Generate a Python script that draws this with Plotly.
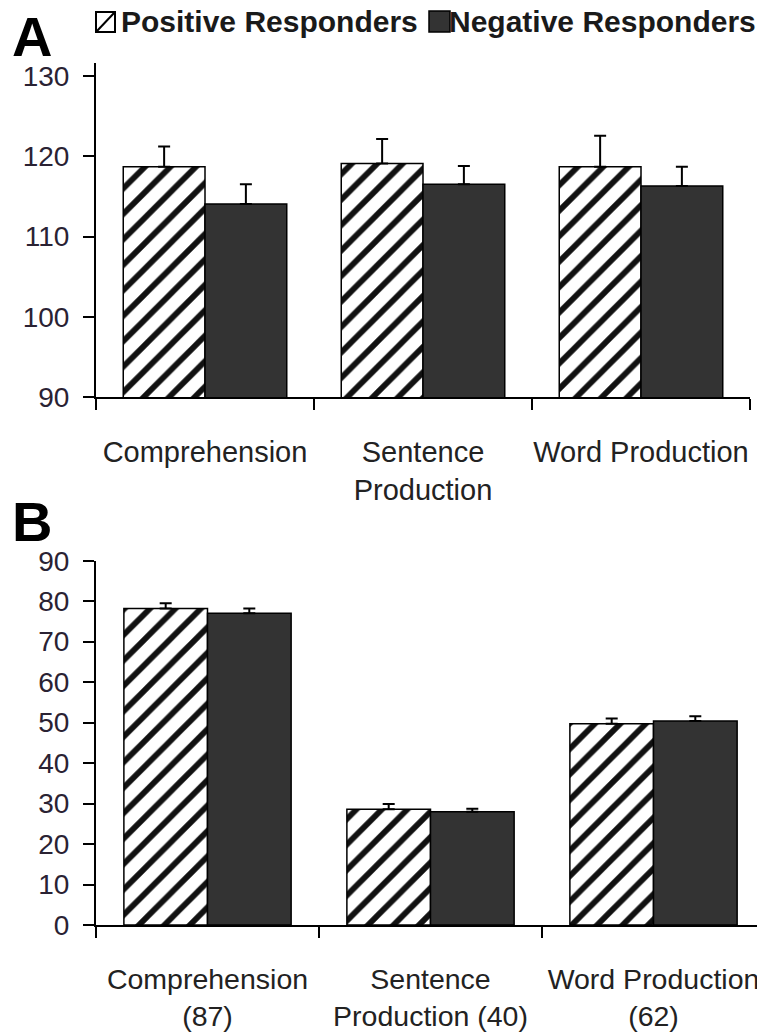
import plotly.graph_objects as go

# page body has an 8px margin; the figure is sized so the page fills 765x1036
OFF = 8
W, H = 765 - OFF, 1036 - OFF

# ---------------- data ----------------
categories = ["Comprehension", "Sentence Production", "Word Production"]
tick_text_a = ["Comprehension", "Sentence<br>Production", "Word Production"]
tick_text_b = ["Comprehension<br>(87)", "Sentence<br>Production (40)", "Word Production<br>(62)"]
series_names = ["Positive Responders", "Negative Responders"]

pos_a = [118.7, 119.1, 118.7]
pos_a_err = [2.5, 3.05, 3.85]
neg_a = [114.05, 116.5, 116.3]
neg_a_err = [2.45, 2.3, 2.4]

pos_b = [78.2, 28.6, 49.7]
pos_b_err = [1.3, 1.3, 1.3]
neg_b = [77.0, 28.0, 50.4]
neg_b_err = [1.2, 0.7, 1.15]

yticks_a = [90, 100, 110, 120, 130]
yticks_b = [0, 10, 20, 30, 40, 50, 60, 70, 80, 90]

FONT = "'Liberation Sans', Arial, sans-serif"
DARK = "#333333"


def px(x):
    return (x - OFF) / W


def py(y):
    return 1 - (y - OFF) / H


pos_marker = dict(color="white", line=dict(color="black", width=1.5),
                  pattern=dict(shape="/", size=18, solidity=0.32,
                               fgcolor="#111111", bgcolor="white", fillmode="replace"))
neg_marker = dict(color=DARK, line=dict(color="black", width=1.5))


def err(arr):
    return dict(type="data", array=arr, arrayminus=[0] * len(arr), symmetric=False,
                color="black", thickness=2, width=6)


fig = go.Figure()
fig.add_bar(x=categories, y=pos_a, name=series_names[0], marker=pos_marker,
            error_y=err(pos_a_err), xaxis="x", yaxis="y", showlegend=False)
fig.add_bar(x=categories, y=neg_a, name=series_names[1], marker=neg_marker,
            error_y=err(neg_a_err), xaxis="x", yaxis="y", showlegend=False)
fig.add_bar(x=categories, y=pos_b, name=series_names[0], marker=pos_marker,
            error_y=err(pos_b_err), xaxis="x2", yaxis="y2", showlegend=False)
fig.add_bar(x=categories, y=neg_b, name=series_names[1], marker=neg_marker,
            error_y=err(neg_b_err), xaxis="x2", yaxis="y2", showlegend=False)

axis_common = dict(showline=True, linecolor="black", linewidth=2, ticks="outside",
                   ticklen=11, tickwidth=2, tickcolor="black", showgrid=False,
                   zeroline=False, automargin=False)

fig.update_layout(
    width=W, height=H,
    margin=dict(l=0, r=0, t=0, b=0, autoexpand=False),
    paper_bgcolor="white", plot_bgcolor="white",
    barmode="group", bargap=0.25, bargroupgap=0,
    font=dict(family=FONT, color="#222222"),
    xaxis=dict(domain=[px(96), px(750)], anchor="y", type="category",
               range=[-0.5, 2.5], tickson="boundaries", tickangle=0,
               tickvals=categories, ticktext=tick_text_a,
               tickfont=dict(size=29, color="#222222"), ticklabelstandoff=28,
               **axis_common),
    yaxis=dict(domain=[py(397), py(63)], anchor="x", range=[90, 131.62],
               tickvals=yticks_a, tickfont=dict(size=28, color="#2a2233"),
               ticklabelstandoff=8, **axis_common),
    xaxis2=dict(domain=[px(96), px(765)], anchor="y2", type="category",
                range=[-0.5, 2.5], tickson="boundaries", tickangle=0,
                tickvals=categories, ticktext=tick_text_b,
                tickfont=dict(size=28.5, color="#222222"), ticklabelstandoff=28,
                **axis_common),
    yaxis2=dict(domain=[py(925), py(560.7)], anchor="x2", range=[0, 90],
                tickvals=yticks_b, tickfont=dict(size=28, color="#2a2233"),
                ticklabelstandoff=8, **axis_common),
)

# panel letters
fig.add_annotation(text="<b>A</b>", x=px(10), y=py(36), xref="paper", yref="paper",
                   xanchor="left", yanchor="middle", showarrow=False,
                   font=dict(size=56, family=FONT, color="black"))
fig.add_annotation(text="<b>B</b>", x=px(10), y=py(521), xref="paper", yref="paper",
                   xanchor="left", yanchor="middle", showarrow=False,
                   font=dict(size=56, family=FONT, color="black"))

# legend (drawn manually)
fig.add_annotation(text="<b>" + series_names[0] + "</b>", x=px(119), y=py(22),
                   xref="paper", yref="paper", xanchor="left", yanchor="middle",
                   showarrow=False, font=dict(size=30, family=FONT, color="#1a1a1a"))
fig.add_annotation(text="<b>" + series_names[1] + "</b>", x=px(447), y=py(22),
                   xref="paper", yref="paper", xanchor="left", yanchor="middle",
                   showarrow=False, font=dict(size=30, family=FONT, color="#1a1a1a"))
fig.add_shape(type="rect", xref="paper", yref="paper", x0=px(96), x1=px(115),
              y0=py(32), y1=py(12), line=dict(color="black", width=2), fillcolor="white")
fig.add_shape(type="line", xref="paper", yref="paper", x0=px(97), x1=px(114),
              y0=py(31), y1=py(13), line=dict(color="black", width=2))
fig.add_shape(type="rect", xref="paper", yref="paper", x0=px(429), x1=px(450),
              y0=py(32), y1=py(11), line=dict(color="black", width=1.5), fillcolor=DARK)

fig.write_html("out.html")
